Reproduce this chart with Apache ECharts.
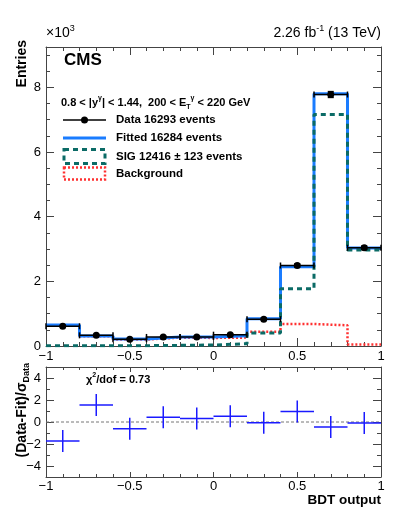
<!DOCTYPE html>
<html>
<head>
<meta charset="utf-8">
<script src="https://cdn.jsdelivr.net/npm/echarts@6/dist/echarts.min.js"></script>
<style>
  html, body { margin: 0; padding: 0; background: #fff; }
  #chart { width: 399px; height: 516px; }
</style>
</head>
<body>
<div id="chart"></div>
<script>
// bins of BDT output, values in units of 10^3 entries
const binEdges = [-1, -0.8, -0.6, -0.4, -0.2, 0, 0.2, 0.4, 0.6, 0.8, 1]
const dataVals = [0.61, 0.33, 0.21, 0.28, 0.28, 0.35, 0.83, 2.49, 7.78, 3.04]
const dataErr = [0.025, 0.018, 0.015, 0.017, 0.017, 0.019, 0.029, 0.05, 0.09, 0.055]
const fitVals = [0.65, 0.31, 0.22, 0.28, 0.28, 0.32, 0.84, 2.45, 7.80, 3.03]
const sigVals = [0.01, 0.01, 0.01, 0.02, 0.03, 0.07, 0.40, 1.77, 7.16, 2.97]
const bkgVals = [0.63, 0.30, 0.20, 0.26, 0.25, 0.26, 0.44, 0.68, 0.64, 0.05]
// (Data-Fit)/sigma per bin
const pullVals = [-1.72, 1.54, -0.62, 0.43, 0.31, 0.52, -0.06, 0.95, -0.46, -0.09]
const pullErr = [1, 1, 1, 1, 1, 1, 1, 1, 1, 1]

const yTopLabels = [0, 2, 4, 6, 8]
const yBottomLabels = [-4, -2, 0, 2, 4]

const FONT = 'Liberation Sans'
const chart = echarts.init(document.getElementById('chart'))

const fmt = v => (v < 0 ? '\u2212' + (-v) : String(v))

function stepPoints(vals) {
  const pts = vals.map((v, i) => [binEdges[i], v])
  pts.push([binEdges[binEdges.length - 1], vals[vals.length - 1]])
  return pts
}

function errItems(vals, errs) {
  return vals.map((v, i) => [binEdges[i], binEdges[i + 1], (binEdges[i] + binEdges[i + 1]) / 2, v, errs[i]])
}

function errRender(color, width, caps, marker) {
  return function (params, api) {
    const xc = api.value(2), y = api.value(3), e = api.value(4)
    const lo = api.coord([api.value(0), y])
    const hi = api.coord([api.value(1), y])
    const c = api.coord([xc, y])
    const t = api.coord([xc, y + e])
    const b = api.coord([xc, y - e])
    const st = { stroke: color, lineWidth: width }
    const kids = [
      { type: 'line', shape: { x1: lo[0], y1: lo[1], x2: hi[0], y2: hi[1] }, style: st },
      { type: 'line', shape: { x1: t[0], y1: t[1], x2: b[0], y2: b[1] }, style: st }
    ]
    if (caps) {
      kids.push({ type: 'line', shape: { x1: lo[0], y1: lo[1] - 3, x2: lo[0], y2: lo[1] + 3 }, style: st })
      kids.push({ type: 'line', shape: { x1: hi[0], y1: hi[1] - 3, x2: hi[0], y2: hi[1] + 3 }, style: st })
      kids.push({ type: 'line', shape: { x1: t[0] - 3, y1: t[1], x2: t[0] + 3, y2: t[1] }, style: st })
      kids.push({ type: 'line', shape: { x1: b[0] - 3, y1: b[1], x2: b[0] + 3, y2: b[1] }, style: st })
    }
    if (marker) {
      kids.push({ type: 'circle', shape: { cx: c[0], cy: c[1], r: 3.5 }, style: { fill: color } })
    }
    return { type: 'group', children: kids }
  }
}

const axisLineStyle = { show: true, onZero: false, lineStyle: { color: '#444', width: 1 } }

function xAx(gridIndex, position, showLabel, majorLen, minorLen, margin) {
  return {
    type: 'value', gridIndex, position, min: -1, max: 1, interval: 0.5,
    axisLine: axisLineStyle,
    axisTick: { show: true, inside: true, length: majorLen, lineStyle: { color: '#444' } },
    minorTick: { show: true, splitNumber: 5, length: minorLen, lineStyle: { color: '#444' } },
    axisLabel: { show: showLabel, formatter: fmt, color: '#000', fontFamily: FONT, fontSize: 13, margin },
    splitLine: { show: false }
  }
}

function yMajor(gridIndex, position, min, max, ticks, showLabel) {
  return {
    type: 'value', gridIndex, position, min, max,
    axisLine: axisLineStyle,
    axisTick: { show: true, inside: true, length: 8, customValues: ticks, lineStyle: { color: '#444' } },
    axisLabel: { show: showLabel, customValues: ticks, formatter: fmt, color: '#000', fontFamily: FONT, fontSize: 13, margin: 5 },
    splitLine: { show: false }
  }
}

function yMinor(gridIndex, position, min, max, interval) {
  return {
    type: 'value', gridIndex, position, min, max, interval,
    axisLine: { show: false, onZero: false },
    axisTick: { show: true, inside: true, length: 4, lineStyle: { color: '#444' } },
    axisLabel: { show: false },
    splitLine: { show: false }
  }
}

const txt = (x, y, text, extra) => ({
  type: 'text', x, y, silent: true,
  style: Object.assign({ text, fill: '#000', fontFamily: FONT, fontSize: 12, verticalAlign: 'middle' }, extra)
})

const option = {
  animation: false,
  backgroundColor: '#fff',
  grid: [
    { left: 46, right: 18, top: 47, height: 299 },
    { left: 46, right: 18, top: 367, height: 110 }
  ],
  xAxis: [
    xAx(0, 'bottom', true, 8, 4, 4),
    xAx(0, 'top', false, 8, 4, 4),
    xAx(1, 'bottom', true, 5, 3, 3),
    xAx(1, 'top', false, 5, 3, 3)
  ],
  yAxis: [
    yMajor(0, 'left', 0, 9.25, yTopLabels, true),
    yMinor(0, 'left', 0, 9.25, 0.5),
    yMajor(0, 'right', 0, 9.25, yTopLabels, false),
    yMinor(0, 'right', 0, 9.25, 0.5),
    yMajor(1, 'left', -5, 5, yBottomLabels, true),
    yMinor(1, 'left', -5, 5, 1),
    yMajor(1, 'right', -5, 5, yBottomLabels, false),
    yMinor(1, 'right', -5, 5, 1)
  ],
  series: [
    {
      name: 'Background', type: 'line', step: 'end', xAxisIndex: 0, yAxisIndex: 0,
      data: stepPoints(bkgVals), showSymbol: false, z: 2,
      lineStyle: { color: '#ff3030', width: 2.5, type: [2, 2] }
    },
    {
      name: 'Fitted', type: 'line', step: 'end', xAxisIndex: 0, yAxisIndex: 0,
      data: stepPoints(fitVals), showSymbol: false, z: 3,
      lineStyle: { color: '#1a7cff', width: 3 }
    },
    {
      name: 'SIG', type: 'line', step: 'end', xAxisIndex: 0, yAxisIndex: 0,
      data: stepPoints(sigVals), showSymbol: false, z: 4,
      lineStyle: { color: '#0b6b66', width: 3, type: [5, 4] }
    },
    {
      name: 'Data', type: 'custom', xAxisIndex: 0, yAxisIndex: 0, z: 5,
      data: errItems(dataVals, dataErr),
      encode: { x: [0, 1, 2], y: [3] },
      renderItem: errRender('#000', 1.5, true, true)
    },
    {
      name: 'zero', type: 'line', xAxisIndex: 2, yAxisIndex: 4, z: 2,
      data: [[binEdges[0], 0], [binEdges[binEdges.length - 1], 0]], showSymbol: false,
      lineStyle: { color: '#777', width: 1, type: [3, 2] }
    },
    {
      name: 'Pull', type: 'custom', xAxisIndex: 2, yAxisIndex: 4, z: 5,
      data: errItems(pullVals, pullErr),
      encode: { x: [0, 1, 2], y: [3] },
      renderItem: errRender('#1a1aff', 1.5, false, false)
    }
  ],
  graphic: [
    txt(46, 33, '\u00d710{sup|3}', { fontSize: 14, lineHeight: 18, rich: { sup: { fontSize: 9, lineHeight: 10, verticalAlign: 'top', fontFamily: FONT } } }),
    txt(381, 33, '2.26 fb{sup|-1} (13 TeV)', { align: 'right', fontSize: 14, lineHeight: 18, rich: { sup: { fontSize: 9, lineHeight: 10, verticalAlign: 'top', fontFamily: FONT } } }),
    {
      type: 'text', x: 22, y: 40, rotation: Math.PI / 2, silent: true,
      style: { text: 'Entries', fill: '#000', fontFamily: FONT, fontSize: 14, fontWeight: 'bold', align: 'right', verticalAlign: 'middle' }
    },
    {
      type: 'text', x: 22, y: 363, rotation: Math.PI / 2, silent: true,
      style: {
        text: '(Data-Fit)/\u03c3{sub|Data}', fill: '#000', fontFamily: FONT, fontSize: 14, fontWeight: 'bold',
        align: 'right', verticalAlign: 'middle', lineHeight: 18,
        rich: { sub: { fontSize: 9, fontWeight: 'bold', lineHeight: 10, verticalAlign: 'bottom', fontFamily: FONT } }
      }
    },
    txt(381, 500, 'BDT output', { align: 'right', fontSize: 13.5, fontWeight: 'bold' }),
    txt(64, 60, 'CMS', { fontSize: 17, fontWeight: 'bold' }),
    txt(61, 103, '0.8 < |y{sup|\u03b3}| < 1.44,  200 < E{sub|T}{sup|\u03b3} < 220 GeV', {
      fontSize: 11, fontWeight: 'bold', lineHeight: 16,
      rich: {
        sup: { fontSize: 7, fontWeight: 'bold', lineHeight: 8, verticalAlign: 'top', fontFamily: FONT },
        sub: { fontSize: 7, fontWeight: 'bold', lineHeight: 8, verticalAlign: 'bottom', fontFamily: FONT }
      }
    }),
    txt(86, 380, '\u03c7{sup|2}/dof = 0.73', {
      fontSize: 11, fontWeight: 'bold', lineHeight: 16,
      rich: { sup: { fontSize: 7, fontWeight: 'bold', lineHeight: 8, verticalAlign: 'top', fontFamily: FONT } }
    }),
    // legend
    { type: 'line', silent: true, shape: { x1: 63, y1: 120, x2: 106, y2: 120 }, style: { stroke: '#000', lineWidth: 1.5 } },
    { type: 'circle', silent: true, shape: { cx: 84.5, cy: 120, r: 3.5 }, style: { fill: '#000' } },
    { type: 'line', silent: true, shape: { x1: 63, y1: 138, x2: 106, y2: 138 }, style: { stroke: '#1a7cff', lineWidth: 3 } },
    { type: 'rect', silent: true, shape: { x: 64, y: 149.5, width: 41, height: 14 }, style: { fill: 'none', stroke: '#0b6b66', lineWidth: 3, lineDash: [5, 4] } },
    { type: 'rect', silent: true, shape: { x: 64, y: 167.5, width: 41, height: 12 }, style: { fill: 'none', stroke: '#ff3030', lineWidth: 2.5, lineDash: [2, 2] } },
    txt(116, 120, 'Data 16293 events', { fontWeight: 'bold', fontSize: 11.5 }),
    txt(116, 138, 'Fitted 16284 events', { fontWeight: 'bold', fontSize: 11.5 }),
    txt(116, 156.5, 'SIG 12416 \u00b1 123 events', { fontWeight: 'bold', fontSize: 11.5 }),
    txt(116, 174, 'Background', { fontWeight: 'bold', fontSize: 11.5 })
  ]
}

chart.setOption(option)
</script>
</body>
</html>
